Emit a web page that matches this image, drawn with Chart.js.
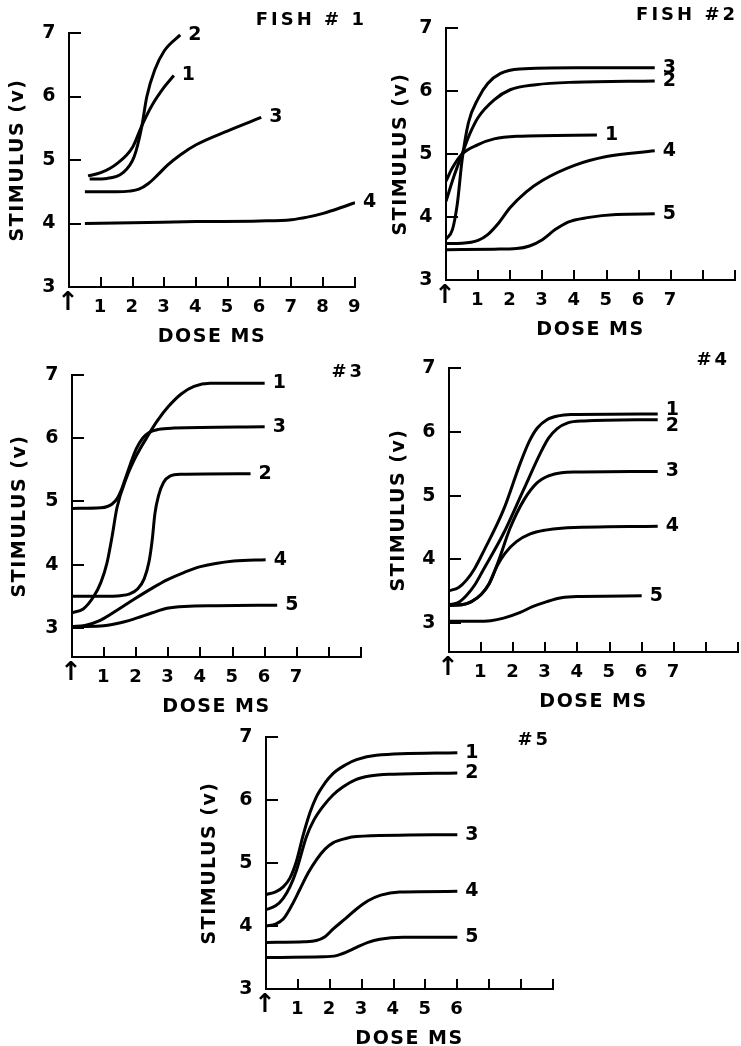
<!DOCTYPE html>
<html><head><meta charset="utf-8">
<script src="https://cdn.jsdelivr.net/npm/chart.js@4.4.1/dist/chart.umd.min.js"></script>
<style>
html,body{margin:0;padding:0;background:#fff;width:741px;height:1046px;overflow:hidden;position:relative}
canvas{position:absolute;display:block}
</style></head><body>
<canvas id="c1"></canvas><canvas id="c2"></canvas><canvas id="c3"></canvas><canvas id="c4"></canvas><canvas id="c5"></canvas>
<script>
// ---------- DATA (dose in MS units, stimulus in volts) ----------
const xTickValues = [0,1,2,3,4,5,6,7,8,9];
const yTickValues = [3,4,5,6,7];
const yAxisTitle = 'STIMULUS (v)';
const xAxisTitle = 'DOSE MS';
const panelTitles = ['FISH # 1', 'FISH #2', '#3', '#4', '#5'];

const fish1Labels = ['1','2','3','4'];
const fish1Curve1 = [[0.6,4.75],[1.0,4.8],[1.5,4.94],[2.0,5.2],[2.3,5.55],[2.6,5.85],[3.0,6.15],[3.3,6.33]];
const fish1Curve2 = [[0.65,4.7],[1.2,4.71],[1.7,4.8],[2.05,5.05],[2.28,5.5],[2.45,6.0],[2.7,6.42],[3.0,6.72],[3.5,6.97]];
const fish1Curve3 = [[0.5,4.5],[1.5,4.5],[1.9,4.51],[2.2,4.54],[2.5,4.63],[2.8,4.77],[3.1,4.92],[3.5,5.08],[4.0,5.24],[5.0,5.46],[6.05,5.67]];
const fish1Curve4 = [[0.5,4.0],[2,4.01],[4,4.03],[6,4.04],[7,4.06],[7.5,4.1],[8,4.16],[8.5,4.24],[9,4.33]];

const fish2Labels = ['1','2','3','4','5'];
const fish2Curve1 = [[0,4.57],[0.2,4.78],[0.5,5.0],[1.0,5.15],[1.5,5.24],[2.2,5.28],[4.7,5.3]];
const fish2Curve2 = [[0,4.25],[0.25,4.65],[0.5,5.0],[0.75,5.33],[1.0,5.58],[1.5,5.86],[2.0,6.02],[2.8,6.1],[4,6.14],[6.5,6.16]];
const fish2Curve3 = [[0,3.65],[0.2,3.8],[0.35,4.2],[0.5,4.9],[0.7,5.5],[1.0,5.88],[1.3,6.12],[1.7,6.28],[2.3,6.35],[4,6.37],[6.5,6.37]];
const fish2Curve4 = [[0,3.58],[0.5,3.585],[1.0,3.63],[1.3,3.72],[1.6,3.88],[2.0,4.15],[2.5,4.4],[3.0,4.58],[4.0,4.82],[5.0,4.96],[6.5,5.05]];
const fish2Curve5 = [[0,3.48],[1.5,3.49],[2.2,3.5],[2.6,3.54],[3.0,3.64],[3.4,3.8],[3.8,3.92],[4.4,3.99],[5.3,4.04],[6.5,4.05]];

const fish3Labels = ['1','2','3','4','5'];
const fish3Curve1 = [[0,3.24],[0.35,3.3],[0.68,3.5],[0.9,3.72],[1.09,4.03],[1.25,4.45],[1.4,4.9],[1.7,5.38],[2.0,5.72],[2.34,6.02],[2.65,6.27],[3.0,6.5],[3.4,6.7],[3.8,6.82],[4.3,6.87],[6.0,6.87]];
const fish3Curve2 = [[0,3.5],[1.0,3.5],[1.5,3.51],[1.8,3.54],[2.05,3.62],[2.25,3.78],[2.4,4.05],[2.5,4.4],[2.58,4.8],[2.7,5.1],[2.85,5.3],[3.05,5.4],[3.4,5.43],[5.56,5.44]];
const fish3Curve3 = [[0,4.89],[0.9,4.9],[1.1,4.92],[1.25,4.96],[1.4,5.04],[1.55,5.2],[1.7,5.42],[2.0,5.83],[2.2,6.0],[2.4,6.09],[2.7,6.14],[3.17,6.16],[6.0,6.18]];
const fish3Curve4 = [[0,3.02],[0.4,3.04],[0.88,3.12],[1.4,3.28],[1.92,3.45],[2.5,3.63],[2.96,3.76],[3.5,3.88],[4.0,3.97],[5.04,4.06],[6.03,4.08]];
const fish3Curve5 = [[0,3.02],[0.88,3.03],[1.4,3.07],[1.92,3.14],[2.5,3.24],[2.96,3.31],[3.5,3.34],[4.5,3.35],[6.39,3.36]];

const fish4Labels = ['1','2','3','4','5'];
const fish4Curve1 = [[0,3.51],[0.3,3.56],[0.55,3.68],[0.8,3.86],[1.07,4.12],[1.7,4.78],[2.22,5.51],[2.5,5.85],[2.75,6.06],[3.05,6.19],[3.4,6.25],[3.8,6.27],[6.5,6.28]];
const fish4Curve2 = [[0,3.29],[0.3,3.33],[0.55,3.44],[0.8,3.6],[1.07,3.84],[1.7,4.41],[2.32,5.09],[2.85,5.67],[3.1,5.9],[3.37,6.05],[3.7,6.14],[4.2,6.17],[6.5,6.19]];
const fish4Curve3 = [[0,3.28],[0.4,3.29],[0.7,3.34],[1.0,3.45],[1.25,3.62],[1.5,3.92],[1.91,4.5],[2.33,4.93],[2.74,5.2],[3.1,5.31],[3.5,5.36],[4.0,5.37],[6.5,5.38]];
const fish4Curve4 = [[0,3.28],[0.4,3.29],[0.7,3.34],[1.0,3.45],[1.25,3.62],[1.5,3.9],[1.75,4.1],[2.1,4.28],[2.53,4.4],[3.0,4.46],[3.5,4.49],[6.5,4.52]];
const fish4Curve5 = [[0,3.03],[0.8,3.03],[1.3,3.04],[1.7,3.08],[2.22,3.17],[2.6,3.26],[3.05,3.34],[3.5,3.4],[3.99,3.42],[6.0,3.43]];

const fish5Labels = ['1','2','3','4','5'];
const fish5Curve1 = [[0,4.5],[0.3,4.54],[0.54,4.62],[0.75,4.76],[0.95,5.02],[1.17,5.45],[1.38,5.8],[1.58,6.05],[1.85,6.27],[2.1,6.42],[2.5,6.56],[2.84,6.64],[3.46,6.71],[6.0,6.75]];
const fish5Curve2 = [[0,4.26],[0.3,4.32],[0.54,4.44],[0.75,4.62],[0.96,4.89],[1.27,5.42],[1.5,5.68],[1.79,5.9],[2.1,6.08],[2.42,6.21],[2.8,6.32],[3.25,6.38],[4.0,6.41],[6.0,6.43]];
const fish5Curve3 = [[0,4.0],[0.3,4.03],[0.54,4.11],[0.8,4.32],[1.06,4.58],[1.32,4.84],[1.58,5.05],[1.85,5.22],[2.1,5.32],[2.5,5.39],[2.84,5.42],[6.0,5.45]];
const fish5Curve4 = [[0,3.74],[1.2,3.75],[1.58,3.77],[1.85,3.83],[2.1,3.95],[2.5,4.12],[2.84,4.27],[3.2,4.4],[3.6,4.49],[4.19,4.54],[6.0,4.55]];
const fish5Curve5 = [[0,3.5],[1.8,3.51],[2.21,3.53],[2.5,3.58],[2.84,3.66],[3.2,3.74],[3.57,3.79],[4.3,3.82],[6.0,3.82]];

// ---------- LAYOUT / STYLE ----------
const FONT = '"DejaVu Sans", "Liberation Sans", sans-serif';
const YW = 70, PT = 42, PR = 24, XH = 62;
const panels = [
  {id:'c1', title:panelTitles[0], labels:fish1Labels, curves:[fish1Curve1,fish1Curve2,fish1Curve3,fish1Curve4],
   left:69, right:358, top:33, bottom:287, yMin:3, lastLabel:9, yTitlePad:8, titleDX:9, titleDY:-13, labelOff:[[0,0],[0,0],[0,0],[0,0]]},
  {id:'c2', title:panelTitles[1], labels:fish2Labels, curves:[fish2Curve1,fish2Curve2,fish2Curve3,fish2Curve4,fish2Curve5],
   left:446, right:735, top:28, bottom:280, yMin:3, lastLabel:7, yTitlePad:14, titleDX:0, titleDY:-13, labelOff:[[0,0],[0,0],[0,0],[0,0],[0,0]]},
  {id:'c3', title:panelTitles[2], labels:fish3Labels, curves:[fish3Curve1,fish3Curve2,fish3Curve3,fish3Curve4,fish3Curve5],
   left:72, right:361, top:375, bottom:657, yMin:2.54, lastLabel:7, yTitlePad:7, titleDX:1, titleDY:-3, labelOff:[[0,0],[0,0],[0,0],[0,0],[0,0]]},
  {id:'c4', title:panelTitles[3], labels:fish4Labels, curves:[fish4Curve1,fish4Curve2,fish4Curve3,fish4Curve4,fish4Curve5],
   left:449, right:738, top:368, bottom:652, yMin:2.55, lastLabel:7, yTitlePad:9, titleDX:-11, titleDY:-8, labelOff:[[0,-4],[0,6],[0,0],[0,0],[0,0]]},
  {id:'c5', title:panelTitles[4], labels:fish5Labels, curves:[fish5Curve1,fish5Curve2,fish5Curve3,fish5Curve4,fish5Curve5],
   left:266, right:553, top:737, bottom:989, yMin:3, lastLabel:6, yTitlePad:3, titleDX:-5, titleDY:3, labelOff:[[0,0],[0,0],[0,0],[0,0],[0,0]]}
];

Chart.defaults.font.family = FONT;
Chart.defaults.color = '#000';

const spacingPlugin = {
  id:'spacing',
  beforeUpdate(chart){ chart.ctx.letterSpacing = '1.5px'; },
  beforeDraw(chart){ chart.ctx.letterSpacing = '1.5px'; }
};

const labelPlugin = {
  id:'seriesLabels',
  afterDatasetsDraw(chart){
    const cfg = chart.options.plugins.seriesLabels;
    const ctx = chart.ctx;
    ctx.save();
    ctx.fillStyle = '#000';
    ctx.textBaseline = 'middle';
    ctx.textAlign = 'left';
    ctx.font = 'bold 19px ' + FONT;
    ctx.letterSpacing = '0px';
    chart.data.datasets.forEach((ds, i) => {
      const meta = chart.getDatasetMeta(i);
      const pt = meta.data[meta.data.length - 1];
      const off = cfg.offsets[i] || [0,0];
      ctx.fillText(ds.label, pt.x + 8 + off[0], pt.y + off[1]);
    });
    ctx.textAlign = 'right';
    ctx.letterSpacing = '3px';
    ctx.font = 'bold 18px ' + FONT;
    ctx.fillText(cfg.title, chart.chartArea.right + cfg.titleDX + 3, chart.chartArea.top + cfg.titleDY);
    ctx.restore();
  }
};

panels.forEach(p => {
  const cv = document.getElementById(p.id);
  const w = (p.right - p.left) + YW + PR;
  const h = (p.bottom - p.top) + PT + XH;
  cv.width = w; cv.height = h;
  cv.style.left = (p.left - YW) + 'px';
  cv.style.top = (p.top - PT) + 'px';
  cv.style.width = w + 'px'; cv.style.height = h + 'px';

  const datasets = p.curves.map((c, i) => ({
    label: p.labels[i],
    data: c.map(pt => ({x: pt[0], y: pt[1]})),
    borderColor: '#000',
    borderWidth: 3,
    pointRadius: 0,
    fill: false,
    cubicInterpolationMode: 'monotone'
  }));

  new Chart(cv, {
    type: 'line',
    data: { datasets },
    plugins: [spacingPlugin, labelPlugin],
    options: {
      responsive: false,
      animation: false,
      devicePixelRatio: 1,
      layout: { padding: { top: PT, right: PR, bottom: 0, left: 0 } },
      plugins: {
        legend: { display: false },
        tooltip: { enabled: false },
        seriesLabels: { title: p.title, titleDX: p.titleDX, titleDY: p.titleDY, offsets: p.labelOff }
      },
      scales: {
        x: {
          type: 'linear', min: 0, max: 9,
          afterFit(s){ s.height = XH; },
          afterBuildTicks(s){ s.ticks = xTickValues.map(v => ({value: v})); },
          grid: { display: true, drawOnChartArea: false, drawTicks: true, tickLength: -10, color: '#000', lineWidth: 2 },
          border: { display: true, color: '#000', width: 2 },
          ticks: {
            autoSkip: false, maxRotation: 0, minRotation: 0, padding: 20, color: '#000',
            font: (ctx) => (ctx.tick && ctx.tick.value === 0)
              ? { family: FONT, size: 26, weight: 'bold', lineHeight: '12px' }
              : { family: FONT, size: 18, weight: 'bold' },
            callback: (v) => v === 0 ? '↑' : (v <= p.lastLabel ? String(v) : '')
          },
          title: { display: true, text: xAxisTitle, color: '#000', font: { family: FONT, size: 19, weight: 'bold' }, padding: { top: 0, bottom: 1 } }
        },
        y: {
          type: 'linear', min: p.yMin, max: 7,
          afterFit(s){ s.width = YW; },
          afterBuildTicks(s){ s.ticks = yTickValues.map(v => ({value: v})); },
          grid: { display: true, drawOnChartArea: false, drawTicks: true, tickLength: -12, color: '#000', lineWidth: 2 },
          border: { display: true, color: '#000', width: 2 },
          ticks: { padding: 24, color: '#000', font: { family: FONT, size: 19, weight: 'bold' }, callback: (v) => String(v) },
          title: { display: true, text: yAxisTitle, color: '#000', font: { family: FONT, size: 19, weight: 'bold' }, padding: { top: p.yTitlePad, bottom: 0 } }
        }
      }
    }
  });
});
</script>
</body></html>
